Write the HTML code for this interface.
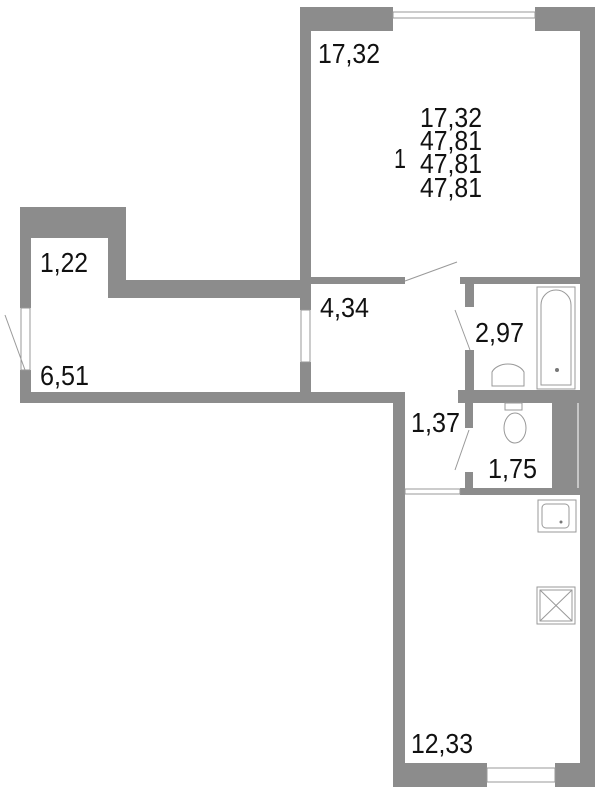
<!DOCTYPE html>
<html><head><style>html,body{margin:0;padding:0;background:#fff}svg{display:block}text{font-family:"Liberation Sans",sans-serif;font-size:28px;fill:#111}</style></head>
<body>
<svg width="600" height="793" viewBox="0 0 600 793" xmlns="http://www.w3.org/2000/svg">
<g fill="#8c8c8c">
<rect x="300" y="7" width="93" height="24"/>
<rect x="535" y="7" width="60" height="24"/>
<rect x="300" y="7" width="11" height="303"/>
<rect x="580" y="7" width="15" height="780"/>
<rect x="300" y="277" width="105" height="7"/>
<rect x="460" y="277" width="120" height="7"/>
<rect x="300" y="362" width="11" height="40"/>
<rect x="20" y="207" width="106" height="31"/>
<rect x="20" y="207" width="11" height="101"/>
<rect x="108" y="207" width="18" height="91"/>
<rect x="108" y="280" width="192" height="18"/>
<rect x="20" y="370" width="11" height="33"/>
<rect x="20" y="392" width="385" height="11"/>
<rect x="465" y="284" width="9" height="23"/>
<rect x="465" y="350" width="9" height="45"/>
<rect x="458" y="390" width="137" height="13"/>
<rect x="465" y="403" width="8" height="25"/>
<rect x="465" y="472" width="8" height="23"/>
<rect x="460" y="488" width="120" height="7"/>
<rect x="552" y="403" width="28" height="85"/>
<rect x="393" y="392" width="12" height="395"/>
<rect x="393" y="763" width="94" height="24"/>
<rect x="555" y="763" width="40" height="24"/>
</g>
<g fill="none" stroke="#999" stroke-width="1">
<rect x="393" y="12" width="142" height="6"/>
<rect x="487" y="768" width="68" height="14"/>
<rect x="301" y="310" width="9" height="52"/>
<rect x="21" y="308" width="9" height="62"/>
<rect x="405" y="489" width="55" height="5"/>
<line x1="405" y1="281" x2="457" y2="262"/>
<line x1="455" y1="310" x2="470" y2="350"/>
<line x1="469" y1="430" x2="455" y2="470"/>
<line x1="5" y1="315" x2="25" y2="370"/>
<rect x="537" y="287" width="38" height="102"/>
<path d="M541 385 V305 A15 15 0 0 1 571 305 V385 Z"/>
<path d="M492 372 A17 12 0 0 1 524 372 L524 386 L492 386 Z"/>
<rect x="505" y="403" width="17" height="7"/>
<ellipse cx="515" cy="428" rx="11" ry="15"/>
<rect x="538" y="500" width="38" height="32"/>
<rect x="542" y="504" width="27" height="24" rx="4"/>
<rect x="537" y="587" width="38" height="37"/>
<rect x="540" y="590" width="32" height="31"/>
<line x1="540" y1="590" x2="572" y2="621"/>
<line x1="572" y1="590" x2="540" y2="621"/>
<line x1="578" y1="403" x2="578" y2="488" stroke="#fff"/>
</g>
<circle cx="557" cy="370" r="2" fill="#777"/>
<circle cx="561" cy="522" r="1.5" fill="#777"/>
<text x="318" y="63" textLength="62" lengthAdjust="spacingAndGlyphs">17,32</text>
<text x="420" y="127" textLength="62" lengthAdjust="spacingAndGlyphs">17,32</text>
<text x="420" y="150" textLength="62" lengthAdjust="spacingAndGlyphs">47,81</text>
<text x="420" y="173" textLength="62" lengthAdjust="spacingAndGlyphs">47,81</text>
<text x="420" y="197" textLength="62" lengthAdjust="spacingAndGlyphs">47,81</text>
<text x="394" y="168" textLength="12" lengthAdjust="spacingAndGlyphs">1</text>
<text x="40" y="272" textLength="48" lengthAdjust="spacingAndGlyphs">1,22</text>
<text x="40" y="385" textLength="49" lengthAdjust="spacingAndGlyphs">6,51</text>
<text x="320" y="317" textLength="49" lengthAdjust="spacingAndGlyphs">4,34</text>
<text x="475" y="342" textLength="49" lengthAdjust="spacingAndGlyphs">2,97</text>
<text x="411" y="432" textLength="49" lengthAdjust="spacingAndGlyphs">1,37</text>
<text x="488" y="478" textLength="49" lengthAdjust="spacingAndGlyphs">1,75</text>
<text x="411" y="753" textLength="62" lengthAdjust="spacingAndGlyphs">12,33</text>
</svg>
</body></html>
